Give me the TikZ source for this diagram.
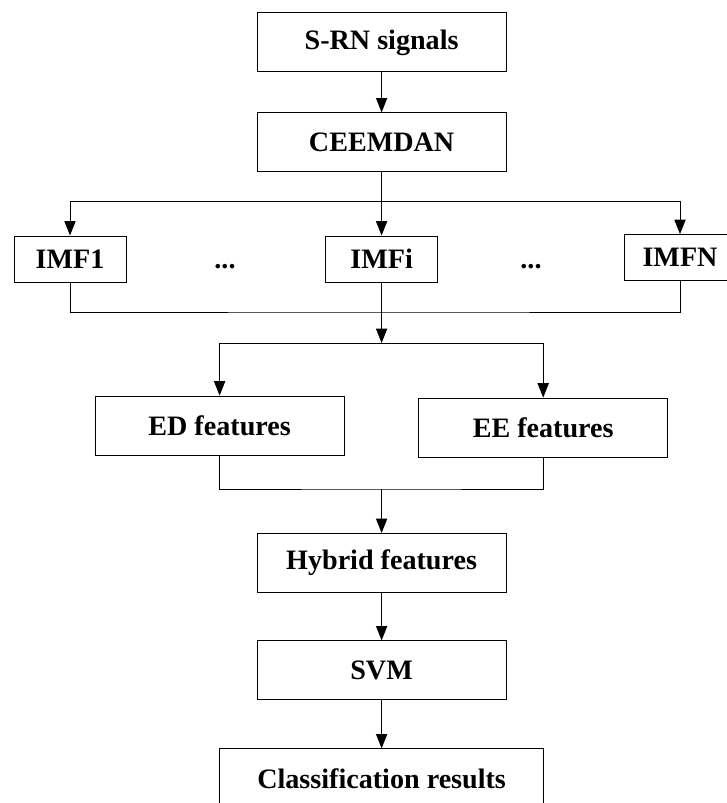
\documentclass[tikz,border=0pt]{standalone}
\usepackage{fontspec}
\setmainfont{Liberation Serif}
\usepackage{tikz}
\usetikzlibrary{arrows.meta, positioning, calc}

\begin{document}
\begin{tikzpicture}[
        block/.style={draw, line width=0.7pt, minimum width=6.22cm, minimum height=1.475cm, inner sep=0pt, align=center, font=\fontsize{20}{24}\selectfont\bfseries},
        imf/.style={block, minimum width=2.8cm, minimum height=1.15cm},
        gap/.style={inner sep=0pt, font=\fontsize{20}{24}\selectfont\bfseries},
        arrow/.style={-{Triangle[length=0.36cm, width=0.28cm]}, line width=0.7pt},
        link/.style={line width=0.7pt}
    ]
        \path[use as bounding box, fill=white] (0, 0) rectangle (18.15, -20.075);

        % Signal decomposition
        \node[block] (signals) at (9.54, -1.06) {S-RN signals};
        \node[block] (ceemdan) at (9.54, -3.56) {CEEMDAN};

        % IMF components
        \node[imf] (imf1) at (1.75, -6.475) {IMF1};
        \node[imf] (imfi) at (9.54, -6.475) {IMFi};
        \node[imf] (imfn) at (17.0, -6.44) {IMFN};
        \node[gap] (dotsa) at (5.625, -6.675) {...};
        \node[gap] (dotsb) at (13.275, -6.675) {...};

        % Feature extraction
        \node[block] (ed) at (5.49, -10.64) {ED features};
        \node[block] (ee) at (13.58, -10.69) {EE features};
        \node[block] (hybrid) at (9.54, -14.075) {Hybrid features};

        % Classification
        \node[block] (svm) at (9.54, -16.76) {SVM};
        \node[block, minimum width=8.1cm] (result) at (9.54, -19.46) {Classification results};

        % Junctions
        \coordinate (split1) at (9.54, -5.025);
        \coordinate (join1) at (9.54, -7.8);
        \coordinate (split2) at (9.54, -8.575);
        \coordinate (join2) at (9.54, -12.225);

        % Arrows
        \draw[arrow] (signals) -- (ceemdan);
        \draw[arrow] (ceemdan) -- (imfi);
        \draw[arrow] (split1) -| (imf1);
        \draw[arrow] (split1) -| (imfn);
        \draw[link] (imf1) |- (join1) -| (imfn);
        \draw[arrow] (imfi) -- (split2);
        \draw[arrow] (split2) -| (ed);
        \draw[arrow] (split2) -| (ee);
        \draw[link] (ed) |- (join2) -| (ee);
        \draw[arrow] (join2) -- (hybrid);
        \draw[arrow] (hybrid) -- (svm);
        \draw[arrow] (svm) -- (result);
    \end{tikzpicture}
\end{document}
